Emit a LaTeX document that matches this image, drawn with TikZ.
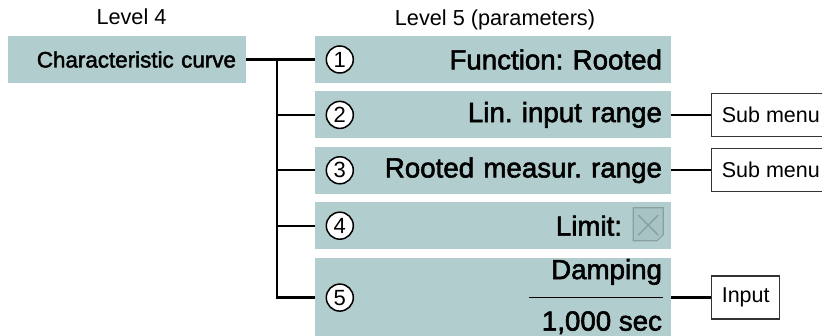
\documentclass[tikz,border=0pt]{standalone}
\usepackage{fontspec}
\setmainfont{Liberation Sans}
\newfontfamily\medfont[FakeBold=2]{Liberation Sans}
\usetikzlibrary{positioning}
\definecolor{menuteal}{HTML}{B2CDCE}
\definecolor{chkgray}{HTML}{8A9FA0}
\definecolor{chkfill}{HTML}{A8C3C4}
\frenchspacing

\begin{document}
\begin{tikzpicture}[x=1pt, y=1pt,
    lvfour/.style={fill=menuteal, minimum height=47pt, text width=218pt, inner xsep=10pt, align=right, font=\medfont\fontsize{22.4}{26}\selectfont},
    lvfive/.style={fill=menuteal, minimum height=47pt, text width=338pt, inner xsep=9pt, align=right, font=\medfont\fontsize{27.7}{32}\selectfont},
    dampval/.style={inner sep=0pt, font=\medfont\fontsize{27.7}{32}\selectfont},
    num/.style={draw, circle, fill=white, line width=1.5pt, minimum size=27pt, inner sep=0pt, font=\fontsize{22}{24}\selectfont},
    sub/.style={draw=black!80, line width=1.2pt, minimum height=43pt, inner xsep=10pt, font=\fontsize{21.5}{25}\selectfont},
    level/.style={font=\fontsize{21.7}{25}\selectfont},
    conn/.style={line width=2.2pt}
  ]
    \useasboundingbox (0,0) rectangle (822,336);

    % level headings
    \node[level, anchor=base] (lvl4) at (131.5,311) {Level 4};
    \node[level, anchor=base] (lvl5) at (495,310) {Level 5 (parameters)};

    % menu boxes
    \node[lvfour] (curve) at (127,276.5) {Characteristic curve};
    \node[lvfive] (fn) at (493,276.5) {Function: Rooted};
    \node[lvfive, below=8pt of fn] (lin) {Lin. input range};
    \node[lvfive, below=8pt of lin] (rooted) {Rooted measur. range};
    \node[lvfive, below=8pt of rooted] (limit) {Limit:\makebox[40pt]{}};
    \node[lvfive, below=8pt of limit, minimum height=80pt] (damp) {};

    \foreach \parm/\n in {fn/1, lin/2, rooted/3, limit/4, damp/5}
      \node[num] (num\n) at ([xshift=25pt]\parm.west) {\n};

    % damping value
    \node[dampval, anchor=base east] (dampname) at ([xshift=-9pt,yshift=18.5pt]damp.east) {Damping};
    \node[dampval, anchor=base east] (dampsec) at ([xshift=-9pt,yshift=-33pt]damp.east) {1,000 sec};
    \draw[line width=1.5pt] ([xshift=-142pt]damp.east) -- ([xshift=-8pt]damp.east);

    % checkbox
    \coordinate (chk) at ([xshift=-23pt,yshift=1.5pt]limit.east);
    \draw[chkgray, fill=chkfill, line width=1.2pt] ([shift={(-15,16.5)}]chk) -- ([shift={(15,16.5)}]chk)
      -- ([shift={(15,-10.5)}]chk) -- ([shift={(9,-16.5)}]chk) -- ([shift={(-15,-16.5)}]chk) -- cycle;
    \draw[chkgray, line width=1.4pt] ([shift={(-10,9)}]chk) -- ([shift={(10,-11)}]chk)
      ([shift={(-10,-11)}]chk) -- ([shift={(10,9)}]chk);

    % sub menus
    \node[sub, right=40pt of lin] (sub1) {Sub menu};
    \node[sub, right=40pt of rooted] (sub2) {Sub menu};
    \node[sub, right=40pt of damp] (inp) {Input};

    % connectors
    \coordinate (split) at ([xshift=31pt]curve.east);
    \draw[conn] (curve.east) -- (fn.west);
    \draw[conn] (split) |- (damp.west);
    \foreach \parm in {lin, rooted, limit}
      \draw[conn] (split |- \parm.west) -- (\parm.west);
    \draw[conn] (lin.east) -- (sub1.west);
    \draw[conn] (rooted.east) -- (sub2.west);
    \draw[conn] (damp.east) -- (inp.west);

\end{tikzpicture}
\end{document}
